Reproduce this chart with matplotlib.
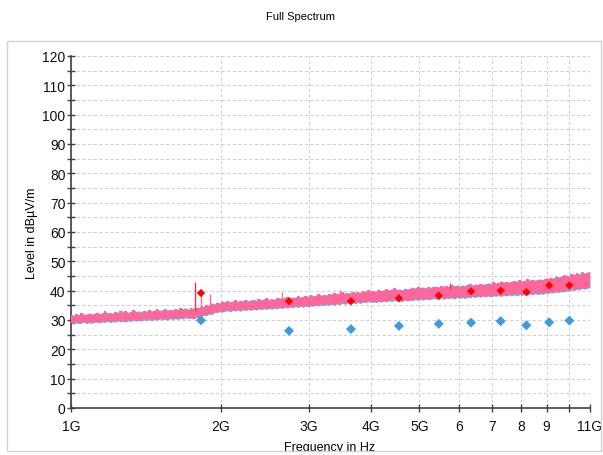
import numpy as np
import matplotlib
matplotlib.use("Agg")
import matplotlib.pyplot as plt
from matplotlib.patches import Rectangle
from matplotlib.ticker import FixedLocator, NullFormatter, FixedFormatter

plt.rcParams['font.family'] = ['Liberation Sans', 'DejaVu Sans']

# ---------------- data ----------------
# sweep grid (GHz) for the spectrum envelope
n_sweep = 200
sweep_ghz = np.geomspace(1.0, 11.0, n_sweep)

level_max = [
    31.7, 31.3, 31.9, 31.5, 32.4, 31.6, 31.8, 32.2, 31.7, 32.0,
    32.5, 31.9, 32.2, 33.0, 32.1, 32.4, 32.0, 32.7, 32.3, 33.2,
    32.5, 32.9, 32.3, 32.7, 33.3, 32.6, 32.8, 32.5, 33.1, 32.7,
    33.4, 32.8, 33.1, 33.6, 33.0, 33.2, 33.8, 33.1, 33.4, 33.2,
    33.7, 33.3, 34.2, 33.5, 33.9, 33.4, 34.0, 33.6, 34.1, 34.0,
    34.6, 34.4, 35.1, 34.8, 35.6, 35.2, 35.9, 35.5, 36.3, 35.8,
    36.4, 35.9, 36.2, 36.7, 36.0, 36.5, 36.2, 36.9, 36.3, 36.6,
    36.8, 36.4, 37.2, 36.6, 36.9, 37.4, 36.7, 37.0, 36.8, 37.6,
    37.3, 37.0, 37.5, 37.9, 37.2, 37.6, 37.4, 38.2, 37.5, 37.8,
    38.1, 37.8, 38.4, 38.0, 38.2, 38.9, 38.1, 38.5, 38.3, 38.7,
    38.6, 39.2, 38.7, 38.9, 39.5, 38.8, 39.1, 38.9, 39.6, 39.2,
    39.4, 39.1, 39.8, 39.5, 40.2, 39.6, 39.8, 39.5, 40.1, 39.8,
    40.0, 40.4, 39.9, 40.2, 40.9, 40.1, 40.3, 40.0, 40.6, 40.3,
    40.5, 41.0, 40.6, 41.4, 40.8, 41.0, 40.7, 41.2, 40.9, 41.1,
    41.3, 41.0, 41.6, 41.2, 41.5, 41.1, 42.0, 41.4, 41.6, 41.3,
    41.7, 41.4, 41.9, 42.4, 41.6, 42.0, 41.8, 42.3, 41.9, 42.1,
    42.4, 42.1, 42.8, 42.3, 42.6, 43.1, 42.5, 42.9, 42.6, 43.0,
    43.2, 42.8, 43.5, 43.0, 43.3, 43.9, 43.2, 43.5, 43.3, 43.6,
    43.7, 43.5, 44.1, 43.9, 44.3, 44.0, 44.8, 44.4, 44.7, 45.3,
    45.0, 44.8, 45.6, 45.2, 45.9, 45.4, 46.3, 45.7, 46.1, 46.2]
level_min = [
    29.0, 28.7, 29.2, 28.9, 29.1, 29.4, 28.9, 29.2, 29.0, 29.3,
    29.4, 29.1, 29.5, 29.3, 29.7, 29.2, 29.6, 29.4, 29.8, 29.5,
    29.8, 29.4, 29.9, 29.6, 30.1, 29.7, 30.0, 29.8, 30.2, 29.9,
    30.2, 29.9, 30.3, 30.0, 30.5, 30.2, 30.4, 30.1, 30.6, 30.3,
    30.6, 30.3, 30.7, 30.5, 30.9, 30.6, 30.8, 30.5, 31.0, 30.8,
    31.3, 31.7, 31.6, 32.2, 32.0, 32.7, 32.6, 33.0, 32.8, 33.1,
    33.3, 32.9, 33.4, 33.2, 33.5, 33.1, 33.6, 33.3, 33.7, 33.4,
    33.8, 33.5, 33.9, 33.6, 34.0, 33.7, 34.1, 33.8, 34.2, 33.9,
    34.3, 34.0, 34.5, 34.2, 34.6, 34.3, 34.7, 34.4, 34.8, 34.5,
    34.9, 34.6, 35.0, 34.8, 35.2, 34.9, 35.3, 35.0, 35.4, 35.1,
    35.5, 35.2, 35.6, 35.4, 35.8, 35.5, 35.9, 35.6, 36.0, 35.7,
    36.1, 35.8, 36.2, 36.0, 36.4, 36.1, 36.3, 36.0, 36.5, 36.2,
    36.6, 36.3, 36.7, 36.4, 36.8, 36.5, 36.7, 36.4, 36.9, 36.6,
    36.9, 36.7, 37.1, 36.8, 37.2, 36.9, 37.3, 37.0, 37.2, 37.4,
    37.3, 37.1, 37.5, 37.2, 37.6, 37.4, 37.7, 37.3, 37.8, 37.5,
    37.8, 37.5, 37.9, 37.7, 38.1, 37.8, 38.2, 37.9, 38.3, 38.0,
    38.3, 38.0, 38.4, 38.2, 38.5, 38.1, 38.6, 38.3, 38.7, 38.4,
    38.7, 38.4, 38.8, 38.5, 38.9, 38.6, 39.0, 38.7, 39.1, 38.8,
    39.1, 38.9, 39.3, 39.2, 39.5, 39.3, 39.7, 39.5, 39.8, 39.7,
    40.1, 39.9, 40.4, 40.2, 40.6, 40.4, 40.9, 40.6, 41.0, 41.1]

# narrow spikes above the noise floor (GHz, base dB, top dB)
spike_ghz = [1.773, 1.823, 1.90, 2.65, 3.47, 5.76]
spike_base = [33.0, 33.2, 34.8, 36.8, 37.9, 40.4]
spike_top = [43.1, 39.2, 38.9, 39.5, 40.2, 42.6]

# final measurement points
marker_ghz = [1.823, 2.738, 3.646, 4.55, 5.47, 6.35, 7.28, 8.20, 9.11, 10.0]
peak_db = [39.2, 36.4, 36.4, 37.4, 38.3, 39.8, 40.0, 39.5, 41.8, 41.8]
avg_db = [29.9, 26.3, 26.9, 28.0, 28.7, 29.1, 29.6, 28.2, 29.2, 29.8]

xtick_ghz = [1, 2, 3, 4, 5, 6, 7, 8, 9, 10, 11]
xtick_labels = ["1G", "2G", "3G", "4G", "5G", "6", "7", "8", "9", "", "11G"]

# ---------------- plot ----------------
fig = plt.figure(figsize=(6.03, 4.56), dpi=100)
ax = fig.add_axes([71/603, 1-409/456, (590-71)/603, (409-57)/456])

hz = 1e9
sx = sweep_ghz * hz
lmax = np.array(level_max)
lmin = np.array(level_min)

ax.fill_between(sx, lmin - 0.15, lmax + 0.3, color="#66b3ea", lw=0, zorder=2)
ax.fill_between(sx, lmin, lmax, color="#ff6699", lw=0, step="mid", zorder=3)
for f, b, t in zip(spike_ghz, spike_base, spike_top):
    col = "#e8305a" if t > 42 else "#ff6699"
    ax.vlines(f * hz, b, t, color=col, lw=1.0, zorder=3)

mx = np.array(marker_ghz) * hz
ax.scatter(mx, avg_db, marker="D", s=26, color="#3d9be0", edgecolors="none", zorder=5)
ax.scatter(mx, peak_db, marker="D", s=18, color="#ff0000", edgecolors="none", zorder=6)

ax.set_xscale("log")
ax.set_xlim(1 * hz, 11 * hz)
ax.set_ylim(0, 120)

ax.xaxis.set_major_locator(FixedLocator([v * hz for v in xtick_ghz]))
ax.xaxis.set_major_formatter(FixedFormatter(xtick_labels))
ax.xaxis.set_minor_locator(FixedLocator([]))
ax.xaxis.set_minor_formatter(NullFormatter())
ax.set_yticks(np.arange(0, 121, 10))
ax.set_yticks(np.arange(5, 120, 10), minor=True)

ax.grid(True, which="major", axis="both", color="#d2d2d2", ls=(0, (3, 2)), lw=0.8, zorder=0)
ax.grid(True, which="minor", axis="y", color="#d2d2d2", ls=(0, (3, 2)), lw=0.8, zorder=0)
ax.set_axisbelow(True)

for s in ["top", "right"]:
    ax.spines[s].set_visible(False)
for s in ["left", "bottom"]:
    ax.spines[s].set_color("#404040")
    ax.spines[s].set_linewidth(1.2)

ax.tick_params(axis="both", which="both", direction="inout", color="#404040", width=1.0)
ax.tick_params(axis="both", which="major", length=6, labelsize=10, labelcolor="#111111")
ax.tick_params(axis="y", which="minor", length=6)
ax.tick_params(axis="x", pad=5)
ax.tick_params(axis="y", pad=1)

ax.set_ylabel("Level in dBµV/m", fontsize=9, labelpad=3)
fig.text(330/603, 1-448/456, "Frequency in Hz", ha="center", va="center", fontsize=9)
fig.text(301/603, 1-17/456, "Full Spectrum", ha="center", va="center", fontsize=8)

# outer frame
fig.patches.append(Rectangle((0, 0), 1, 1-452/456, transform=fig.transFigure,
                             facecolor="white", edgecolor="none", zorder=20))
fig.patches.append(Rectangle((7/603, 1-452/456), 594/603, (452-42)/456,
                             transform=fig.transFigure, facecolor="none",
                             edgecolor="#d4d4d4", lw=1.0, zorder=21))

fig.savefig("out.png", dpi=100)
